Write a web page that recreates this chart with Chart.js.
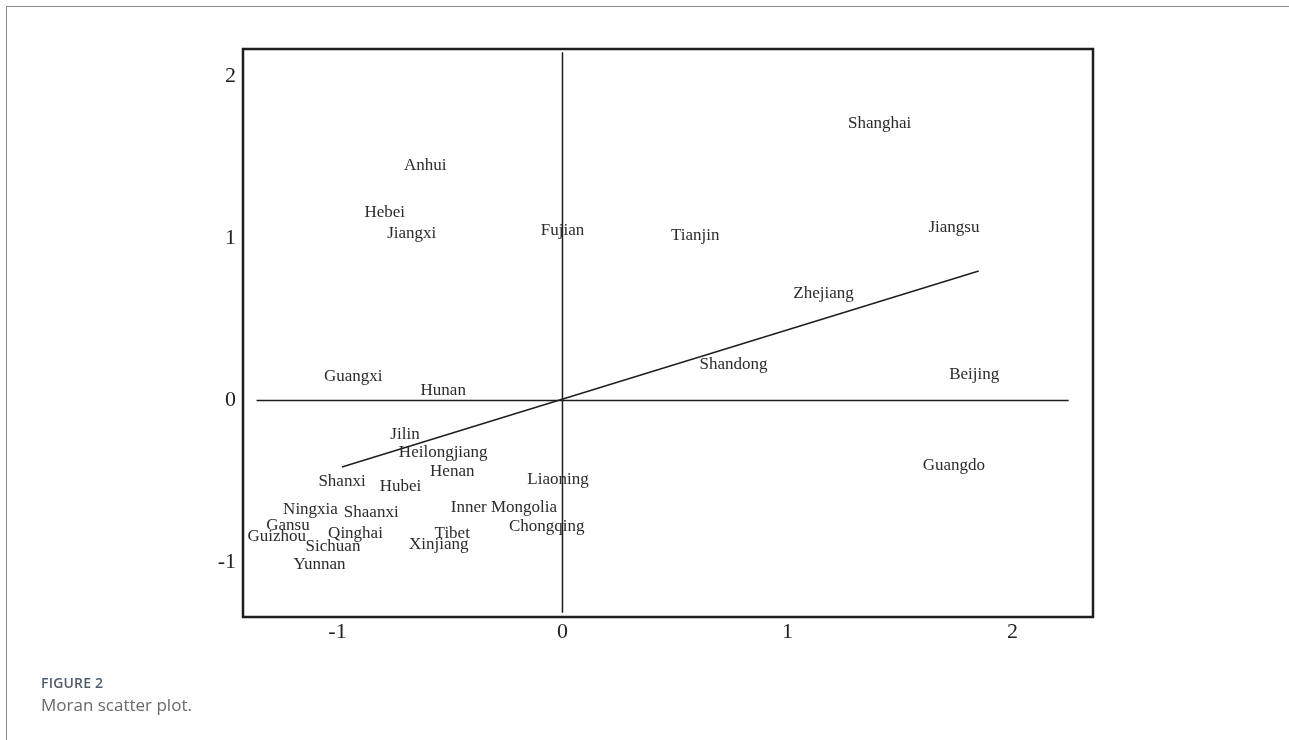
<!DOCTYPE html>
<html>
<head>
<meta charset="utf-8">
<title>Moran scatter plot</title>
<script src="https://cdn.jsdelivr.net/npm/chart.js@4"></script>
<style>
    html, body { margin: 0; padding: 0; background: #fff; overflow: hidden; }
    body { width: 1289px; height: 740px; position: relative; }
    .frame {
        position: absolute; left: 6px; top: 6px; width: 1300px; height: 760px;
        border-left: 1.5px solid #8a8a8a; border-top: 1.5px solid #8a8a8a;
    }
    #wrap { position: absolute; left: 0; top: 0; width: 1289px; height: 740px; }
    .caption { position: absolute; left: 41px; font-family: "Open Sans", sans-serif; }
    .fig-num { top: 673px; font-size: 14px; font-weight: 600; color: #4f5d6b; letter-spacing: 0.2px; }
    .fig-title { top: 693px; font-size: 17px; color: #6a6a6a; }
</style>
</head>
<body>
<div class="frame"></div>
<div id="wrap"><canvas id="moranChart"></canvas></div>
<div class="caption fig-num">FIGURE 2</div>
<div class="caption fig-title">Moran scatter plot.</div>

<script>
// ==================================================
// 1. DATA
// ==================================================
const provinces = [
    "Shanghai", "Jiangsu", "Zhejiang", "Shandong", "Beijing", "Guangdo",
    "Anhui", "Hebei", "Jiangxi", "Fujian", "Tianjin",
    "Guangxi", "Hunan", "Jilin", "Heilongjiang", "Henan", "Shanxi", "Hubei",
    "Liaoning", "Ningxia", "Shaanxi", "Inner Mongolia", "Chongqing",
    "Gansu", "Guizhou", "Qinghai", "Sichuan", "Tibet", "Xinjiang", "Yunnan"
];
// standardised value (x) and spatial lag (y)
const moranX = [
    1.41, 1.74, 1.16, 0.76, 1.83, 1.74,
    -0.61, -0.79, -0.67, 0.00, 0.59,
    -0.93, -0.53, -0.70, -0.53, -0.49, -0.98, -0.72,
    -0.02, -1.12, -0.85, -0.26, -0.07,
    -1.22, -1.27, -0.92, -1.02, -0.49, -0.55, -1.08
];
const moranY = [
    1.71, 1.07, 0.66, 0.22, 0.16, -0.40,
    1.45, 1.16, 1.03, 1.05, 1.02,
    0.15, 0.06, -0.21, -0.32, -0.44, -0.50, -0.53,
    -0.49, -0.67, -0.69, -0.66, -0.78,
    -0.77, -0.84, -0.82, -0.90, -0.82, -0.89, -1.01
];

// fitted line (slope = Moran's I)
const fitX = [-0.98, 1.85];
const fitY = [-0.41, 0.80];

// quadrant axes drawn as segments
const hLineX = [-1.36, 2.25];
const vLineY = [2.15, -1.31];

// tick labels
const xTicks = [-1, 0, 1, 2];
const yTicks = [-1, 0, 1, 2];

// ==================================================
// 2. PLUGINS
// ==================================================
// writes the province names at the point positions
const nameLabels = {
    id: "nameLabels",
    afterDatasetsDraw(chart) {
        const ctx = chart.ctx;
        const meta = chart.getDatasetMeta(0);
        ctx.save();
        ctx.font = "17px 'Liberation Serif'";
        ctx.fillStyle = "#2b2b2b";
        ctx.textAlign = "center";
        ctx.textBaseline = "middle";
        meta.data.forEach((pt, i) => {
            ctx.fillText(provinces[i], pt.x, pt.y);
        });
        ctx.restore();
    }
};

// full box around the plotting area
const plotBox = {
    id: "plotBox",
    afterDraw(chart) {
        const a = chart.chartArea;
        const ctx = chart.ctx;
        ctx.save();
        ctx.strokeStyle = "#1e1e1e";
        ctx.lineWidth = 2.5;
        ctx.strokeRect(a.left, a.top, a.right - a.left, a.bottom - a.top);
        ctx.restore();
    }
};

// ==================================================
// 3. CHART
// ==================================================
const points = moranX.map((x, i) => ({ x: x, y: moranY[i] }));
const segStyle = {
    type: "line",
    borderColor: "#1e1e1e",
    borderWidth: 1.5,
    pointRadius: 0,
    fill: false,
    tension: 0
};

new Chart(document.getElementById("moranChart"), {
    type: "scatter",
    data: {
        datasets: [
            { label: "Provinces", data: points, pointRadius: 0, pointHoverRadius: 0 },
            Object.assign({ label: "Fit", data: fitX.map((x, i) => ({ x: x, y: fitY[i] })) }, segStyle),
            Object.assign({ label: "H0", data: hLineX.map(x => ({ x: x, y: 0 })) }, segStyle),
            Object.assign({ label: "V0", data: vLineY.map(y => ({ x: 0, y: y })) }, segStyle)
        ]
    },
    options: {
        responsive: true,
        maintainAspectRatio: false,
        animation: false,
        layout: { padding: { left: 203, top: 49, right: 196, bottom: 83 } },
        plugins: { legend: { display: false }, tooltip: { enabled: false } },
        scales: {
            x: {
                type: "linear",
                min: -1.42,
                max: 2.358,
                afterBuildTicks: (scale) => { scale.ticks = xTicks.map(v => ({ value: v })); },
                afterFit: (scale) => { scale.height = 40; },
                grid: { display: false, drawTicks: false },
                border: { display: false },
                ticks: {
                    padding: 2,
                    color: "#222",
                    font: { family: "'Liberation Serif'", size: 22 },
                    callback: (v) => String(v)
                }
            },
            y: {
                type: "linear",
                min: -1.336,
                max: 2.17,
                afterBuildTicks: (scale) => { scale.ticks = yTicks.map(v => ({ value: v })); },
                afterFit: (scale) => { scale.width = 40; },
                grid: { display: false, drawTicks: false },
                border: { display: false },
                ticks: {
                    padding: 7,
                    color: "#222",
                    font: { family: "'Liberation Serif'", size: 22 },
                    callback: (v) => String(v)
                }
            }
        }
    },
    plugins: [nameLabels, plotBox]
});
</script>
</body>
</html>
